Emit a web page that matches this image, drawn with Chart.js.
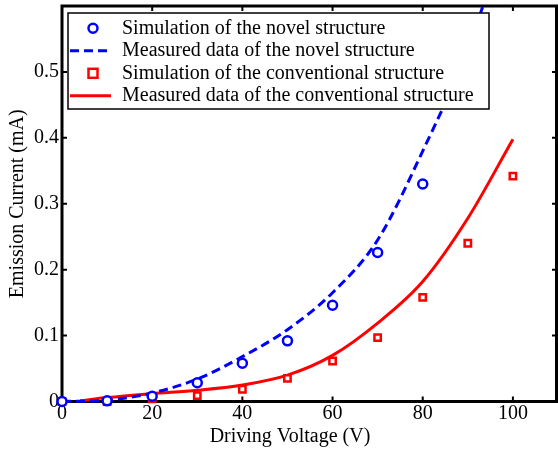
<!DOCTYPE html>
<html>
<head>
<meta charset="utf-8">
<script src="https://cdn.jsdelivr.net/npm/chart.js@4.4.1/dist/chart.umd.min.js"></script>
<style>
  html, body { margin: 0; padding: 0; background: #ffffff; }
  #wrap { width: 558px; height: 452px; position: relative; }
</style>
</head>
<body>
<div id="wrap"><canvas id="c" width="558" height="452"></canvas></div>
<script>
// ---- data ----
const simNovelV   = [0, 10, 20, 30, 40, 50, 60, 70, 80];
const simNovelI   = [0, 0.001, 0.008, 0.0285, 0.058, 0.092, 0.146, 0.226, 0.330];
const measNovelV  = [0, 10, 20, 30, 40, 50, 60, 70, 80, 90, 100];
const measNovelI  = [0, 0.002, 0.013, 0.034, 0.068, 0.109, 0.165, 0.245, 0.38, 0.535, 0.74];
const simConvV    = [0, 10, 20, 30, 40, 50, 60, 70, 80, 90, 100];
const simConvI    = [0, 0, 0.004, 0.009, 0.0185, 0.035, 0.0615, 0.097, 0.158, 0.24, 0.342];
const measConvV   = [4, 10, 20, 30, 40, 50, 60, 70, 80, 90, 100];
const measConvI   = [0.001, 0.006, 0.012, 0.017, 0.025, 0.04, 0.07, 0.119, 0.182, 0.278, 0.398];
const seriesLabels = [
  'Simulation of the novel structure',
  'Measured data of the novel structure',
  'Simulation of the conventional structure',
  'Measured data of the conventional structure'
];
const xTitle = 'Driving Voltage (V)';
const yTitle = 'Emission Current (mA)';
const xTicks = [0, 20, 40, 60, 80, 100];
const yTicks = [0, 0.1, 0.2, 0.3, 0.4, 0.5];

const toPts = (xs, ys) => xs.map((x, i) => ({ x: x, y: ys[i] }));
const BLUE = '#0000ff', RED = '#ff0000';
const FONT = 'Liberation Serif, Times New Roman, serif';

Chart.defaults.font.family = FONT;
Chart.defaults.font.size = 20;
Chart.defaults.color = '#000000';

const framePlugin = {
  id: 'frame',
  beforeDatasetsDraw(chart) {
    const { ctx, chartArea: a, scales } = chart;
    ctx.save();
    ctx.strokeStyle = '#000';
    ctx.lineWidth = 2;
    const tl = 5;
    ctx.beginPath();
    xTicks.forEach(v => {
      if (v === 0) return;
      const px = scales.x.getPixelForValue(v);
      ctx.moveTo(px, a.bottom); ctx.lineTo(px, a.bottom - tl);
      ctx.moveTo(px, a.top); ctx.lineTo(px, a.top + tl);
    });
    yTicks.forEach(v => {
      if (v === 0) return;
      const py = scales.y.getPixelForValue(v);
      ctx.moveTo(a.left, py); ctx.lineTo(a.left + tl, py);
      ctx.moveTo(a.right - 1, py); ctx.lineTo(a.right - 1 - tl, py);
    });
    ctx.stroke();
    ctx.lineWidth = 3;
    ctx.strokeRect(a.left, a.top, a.right - a.left - 1.5, a.bottom - a.top);
    ctx.restore();
  },
  afterDraw(chart) {
    const { ctx } = chart;
    ctx.save();
    // x-axis title
    ctx.font = '20px ' + FONT;
    ctx.fillStyle = '#000';
    ctx.textAlign = 'center';
    ctx.textBaseline = 'middle';
    ctx.fillText(xTitle, 290, 437);
    // legend box
    const bx = 68, by = 13, bw = 421, bh = 96;
    ctx.fillStyle = '#fff';
    ctx.fillRect(bx, by, bw, bh);
    ctx.strokeStyle = '#000';
    ctx.lineWidth = 1.5;
    ctx.strokeRect(bx, by, bw, bh);
    const rows = [28.3, 50.7, 73.3, 95.7];
    chart.data.datasets.forEach((ds, i) => {
      const y = rows[i];
      ctx.save();
      ctx.strokeStyle = ds.borderColor;
      if (ds.showLine === false) {
        ctx.lineWidth = ds.pointBorderWidth;
        ctx.fillStyle = '#fff';
        const r = ds.pointRadius;
        if (ds.pointStyle === 'rect') {
          ctx.fillRect(93 - r, y - r, 2 * r, 2 * r);
          ctx.strokeRect(93 - r, y - r, 2 * r, 2 * r);
        } else {
          ctx.beginPath(); ctx.arc(93, y, r, 0, Math.PI * 2); ctx.fill(); ctx.stroke();
        }
      } else {
        ctx.lineWidth = ds.borderWidth;
        ctx.setLineDash(ds.borderDash || []);
        ctx.beginPath(); ctx.moveTo(70, y); ctx.lineTo(111, y); ctx.stroke();
      }
      ctx.restore();
      ctx.fillStyle = '#000';
      ctx.textAlign = 'left';
      ctx.textBaseline = 'middle';
      ctx.fillText(ds.label, 122, y);
    });
    ctx.restore();
  }
};

new Chart(document.getElementById('c'), {
  type: 'scatter',
  data: {
    datasets: [
      {
        label: seriesLabels[0], data: toPts(simNovelV, simNovelI), showLine: false,
        pointStyle: 'circle', pointRadius: 4.5, pointBorderWidth: 2.5,
        borderColor: BLUE, backgroundColor: '#fff', pointBackgroundColor: '#fff',
        clip: { left: 10, right: 0, top: 0, bottom: 10 }
      },
      {
        label: seriesLabels[1], data: toPts(measNovelV, measNovelI), showLine: true,
        borderColor: BLUE, borderWidth: 3, borderDash: [9, 5], pointRadius: 0,
        cubicInterpolationMode: 'monotone', fill: false,
        clip: { left: 5, right: 0, top: 0, bottom: 5 }
      },
      {
        label: seriesLabels[2], data: toPts(simConvV, simConvI), showLine: false,
        pointStyle: 'rect', pointRadius: 4.5, pointBorderWidth: 2.5,
        borderColor: RED, backgroundColor: '#fff', pointBackgroundColor: '#fff',
        clip: { left: 10, right: 0, top: 0, bottom: 10 }
      },
      {
        label: seriesLabels[3], data: toPts(measConvV, measConvI), showLine: true,
        borderColor: RED, borderWidth: 3, pointRadius: 0,
        cubicInterpolationMode: 'monotone', fill: false,
        clip: { left: 5, right: 0, top: 0, bottom: 5 }
      }
    ]
  },
  options: {
    responsive: false,
    animation: false,
    layout: { autoPadding: false, padding: { top: 6, right: 0, left: 0, bottom: 0 } },
    plugins: { legend: { display: false }, tooltip: { enabled: false } },
    scales: {
      x: {
        type: 'linear', min: 0, max: 110,
        grid: { display: false, drawTicks: false },
        border: { display: false },
        ticks: { stepSize: 20, includeBounds: false, padding: 0, maxRotation: 0,
                 font: { size: 20 } },
        afterFit(s) { s.height = 50.5; s.paddingLeft = 0; s.paddingRight = 0; }
      },
      y: {
        type: 'linear', min: 0, max: 0.6,
        grid: { display: false, drawTicks: false },
        border: { display: false },
        ticks: { stepSize: 0.1, padding: 3, font: { size: 20 },
                 callback: (v) => (v > 0.55 ? '' : String(Math.round(v * 10) / 10)) },
        title: { display: true, text: yTitle, font: { size: 20 }, padding: { top: 6, bottom: 0 } },
        afterFit(s) { s.width = 62; s.paddingTop = 0; s.paddingBottom = 0; }
      }
    }
  },
  plugins: [framePlugin]
});
</script>
</body>
</html>
